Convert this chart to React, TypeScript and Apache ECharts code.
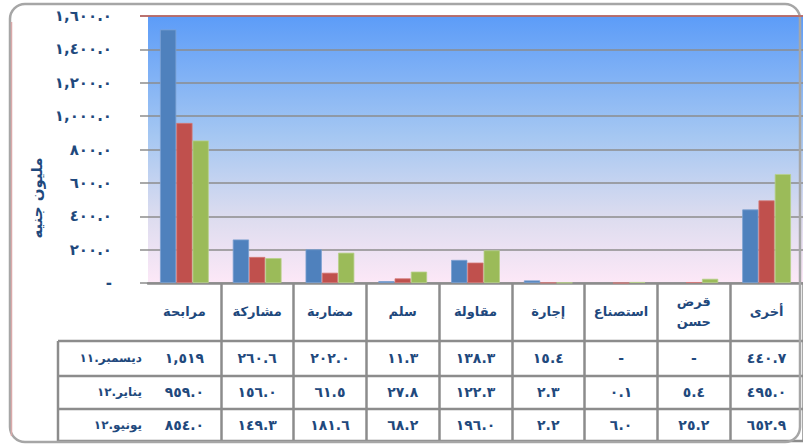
import React, { useEffect, useRef } from "react";
import * as echarts from "echarts";

const categories = ["مرابحة", "مشاركة", "مضاربة", "سلم", "مقاولة", "إجارة", "استصناع", "قرض\nحسن", "أخرى"];
const rowLabels = ["ديسمبر.١١", "يناير.١٢", "يونيو.١٢"];
const dec11 = [1519, 260.6, 202.0, 11.3, 138.3, 15.4, null, null, 440.7];
const jan12 = [959.0, 156.0, 61.5, 27.8, 122.3, 2.3, 0.1, 5.4, 495.0];
const jun12 = [854.0, 149.3, 181.6, 68.2, 196.0, 2.2, 6.0, 25.2, 652.9];
const rows = [dec11, jan12, jun12];
const colors = ["#4f81bd", "#c0504d", "#9bbb59"];
const borderColors = ["#7aa0d0", "#d47b78", "#b7d08a"];
const yAxisName = "مليون جنيه";

const AR = "٠١٢٣٤٥٦٧٨٩";
const toAr = (s: string) => s.replace(/[0-9]/g, (d) => AR[+d]);
const withSep = (s: string) => s.replace(/\B(?=(\d{3})+(?!\d))/g, ",");
const fmtCell = (v: number | null) => {
  if (v === null || v === undefined) return "-";
  if (v >= 1000) return toAr(withSep(Math.round(v).toString()));
  return toAr(v.toFixed(1));
};
const fmtTick = (v: number) => {
  if (v === 0) return "-";
  const [i, d] = v.toFixed(1).split(".");
  return toAr(withSep(i) + "." + d);
};

const FONT = "DejaVu Sans";
const TXT = "#1f497d";
const GRID = "#8c8c8c";

export default function App() {
  const ref = useRef<HTMLDivElement>(null);
  useEffect(() => {
    if (!ref.current) return;
    const chart = echarts.init(ref.current, null, { renderer: "svg" });
    const gridLeft = 148, gridTop = 16, gridW = 660, gridH = 267;
    const gridBottomY = gridTop + gridH;
    const rowCenters = [358, 392, 425];
    const hLines = [341, 376, 409, 441];

    const rowAxes = rows.map((r, k) => ({
      type: "category",
      gridIndex: 0,
      position: "bottom",
      offset: rowCenters[k] - gridBottomY,
      data: r.map(fmtCell),
      axisLine: { show: false },
      axisTick: { show: false },
      axisLabel: {
        interval: 0, margin: 0, verticalAlign: "middle",
        fontFamily: FONT, fontWeight: "bold", fontSize: 14, color: TXT,
      },
    }));

    const graphics: any[] = [
      {
        type: "rect", z: 100,
        shape: { x: 10, y: 4, width: 790, height: 438, r: 15 },
        style: { fill: "none", stroke: "#a6a6a6", lineWidth: 2.5 },
      },
      {
        type: "line", z: 101,
        shape: { x1: 11.5, y1: 22, x2: 11.5, y2: 436 },
        style: { stroke: "#d9a9a9", lineWidth: 1.5 },
      },
      {
        type: "line", z: 101,
        shape: { x1: 140, y1: gridTop, x2: 803, y2: gridTop },
        style: { stroke: "#c0605d", lineWidth: 1.5 },
      },
      ...hLines.map((y) => ({
        type: "line", z: 50,
        shape: { x1: 58, y1: y, x2: 803, y2: y },
        style: { stroke: GRID, lineWidth: 2.5 },
      })),
      {
        type: "line", z: 50,
        shape: { x1: 58, y1: hLines[0], x2: 58, y2: hLines[3] },
        style: { stroke: GRID, lineWidth: 2.5 },
      },
      ...rowLabels.map((t, k) => ({
        type: "text", z: 60,
        x: 142, y: rowCenters[k],
        style: {
          text: t, align: "right", verticalAlign: "middle",
          font: `bold 12px "${FONT}"`, fill: TXT,
        },
      })),
      {
        type: "text", z: 60,
        x: 37, y: 198, rotation: Math.PI / 2,
        style: {
          text: yAxisName, align: "center", verticalAlign: "middle",
          font: `bold 15px "${FONT}"`, fill: TXT,
        },
      },
    ];

    chart.setOption({
      animation: false,
      backgroundColor: "#ffffff",
      grid: {
        left: gridLeft, top: gridTop, width: gridW, height: gridH,
        show: true, borderWidth: 0,
        backgroundColor: new echarts.graphic.LinearGradient(0, 0, 0, 1, [
          { offset: 0, color: "#5c9cf8" },
          { offset: 0.45, color: "#a5c7f2" },
          { offset: 0.75, color: "#dcdcef" },
          { offset: 1, color: "#fde8f7" },
        ]),
      },
      xAxis: [
        {
          type: "category",
          data: categories,
          position: "bottom",
          axisLine: { show: true, lineStyle: { color: GRID, width: 2.5 } },
          axisTick: {
            show: true, length: 158,
            interval: (i: number) => i !== 0,
            lineStyle: { color: GRID, width: 2.5 },
          },
          axisLabel: {
            interval: 0, margin: 28, verticalAlign: "middle", lineHeight: 20,
            fontFamily: FONT, fontWeight: "bold", fontSize: 13, color: TXT,
          },
        },
        ...rowAxes,
      ],
      yAxis: {
        type: "value",
        min: 0, max: 1600, interval: 200,
        axisLine: { show: false },
        axisTick: { show: true, length: 8, lineStyle: { color: GRID, width: 1.5 } },
        splitLine: { show: true, lineStyle: { color: GRID, width: 1.5 } },
        axisLabel: {
          margin: 36, formatter: fmtTick,
          fontFamily: FONT, fontWeight: "bold", fontSize: 15, color: TXT,
        },
      },
      series: rows.map((r, k) => ({
        type: "bar",
        name: rowLabels[k],
        xAxisIndex: 0,
        data: r,
        barGap: "0%",
        barCategoryGap: "33%",
        itemStyle: { color: colors[k], borderColor: borderColors[k], borderWidth: 0.8 },
      })),
      graphic: graphics,
    });
    return () => chart.dispose();
  }, []);
  return (
    <div
      ref={ref}
      style={{ position: "fixed", left: 0, top: 0, width: 803, height: 444, background: "#fff" }}
    />
  );
}
